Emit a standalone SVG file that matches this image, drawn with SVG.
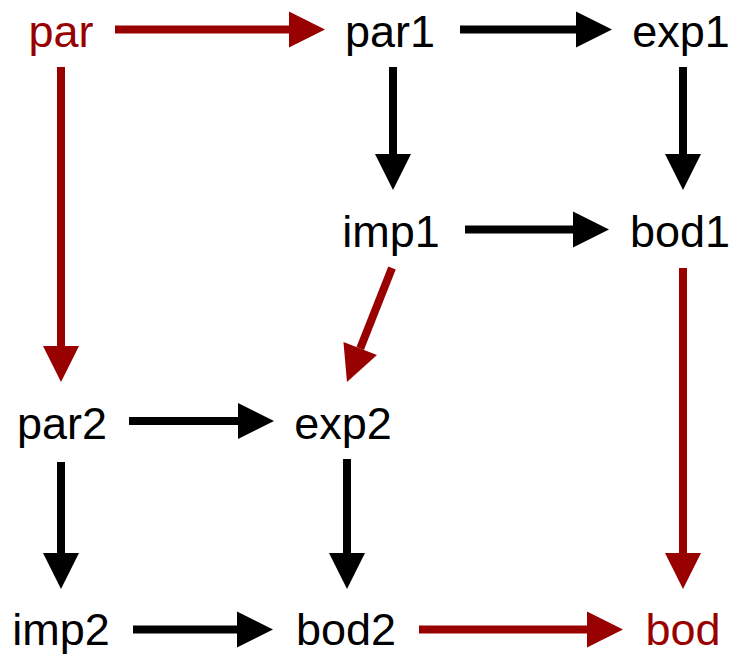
<svg xmlns="http://www.w3.org/2000/svg" width="734" height="656" viewBox="0 0 734 656">
<style>
  text { font-family: "Liberation Sans", Arial, sans-serif; font-size: 45px; text-anchor: middle; }
  .k { fill: #000000; }
  .r { fill: #990000; }
  .e { fill: none; stroke-width: 8; }
  .ek { stroke: #000000; marker-end: url(#ak); }
  .er { stroke: #990000; marker-end: url(#ar); }
</style>
<defs>
  <marker id="ak" markerUnits="userSpaceOnUse" markerWidth="36" markerHeight="36" refX="0" refY="18" orient="auto" overflow="visible">
    <path d="M0,0 L36,18 L0,36 Z" fill="#000000"/>
  </marker>
  <marker id="ar" markerUnits="userSpaceOnUse" markerWidth="36" markerHeight="36" refX="0" refY="18" orient="auto" overflow="visible">
    <path d="M0,0 L36,18 L0,36 Z" fill="#990000"/>
  </marker>
</defs>
<rect width="734" height="656" fill="#ffffff"/>
<g id="connectors">
  <line class="e er" x1="115" y1="29.5" x2="289" y2="29.5"/>
  <line class="e ek" x1="460" y1="29.5" x2="576" y2="29.5"/>
  <line class="e er" x1="61" y1="67" x2="61" y2="346"/>
  <line class="e ek" x1="393" y1="67" x2="393" y2="154"/>
  <line class="e ek" x1="683" y1="67" x2="683" y2="154"/>
  <line class="e ek" x1="465" y1="229.5" x2="573" y2="229.5"/>
  <line class="e er" x1="392" y1="268" x2="360.2" y2="348.5"/>
  <line class="e er" x1="683" y1="268" x2="683" y2="553"/>
  <line class="e ek" x1="129" y1="421" x2="238" y2="421"/>
  <line class="e ek" x1="61" y1="462" x2="61" y2="553"/>
  <line class="e ek" x1="347" y1="459" x2="347" y2="553"/>
  <line class="e ek" x1="133" y1="629.5" x2="237" y2="629.5"/>
  <line class="e er" x1="419" y1="629.5" x2="587" y2="629.5"/>
</g>
<g id="par"><text class="r" x="61" y="47">par</text></g>
<g id="par1"><text class="k" x="390" y="47">par1</text></g>
<g id="exp1"><text class="k" x="681" y="47">exp1</text></g>
<g id="imp1"><text class="k" x="391" y="247">imp1</text></g>
<g id="bod1"><text class="k" x="680" y="247">bod1</text></g>
<g id="par2"><text class="k" x="62" y="439">par2</text></g>
<g id="exp2"><text class="k" x="343" y="439">exp2</text></g>
<g id="imp2"><text class="k" x="61" y="645">imp2</text></g>
<g id="bod2"><text class="k" x="346" y="645">bod2</text></g>
<g id="bod"><text class="r" x="683" y="645">bod</text></g>
</svg>
